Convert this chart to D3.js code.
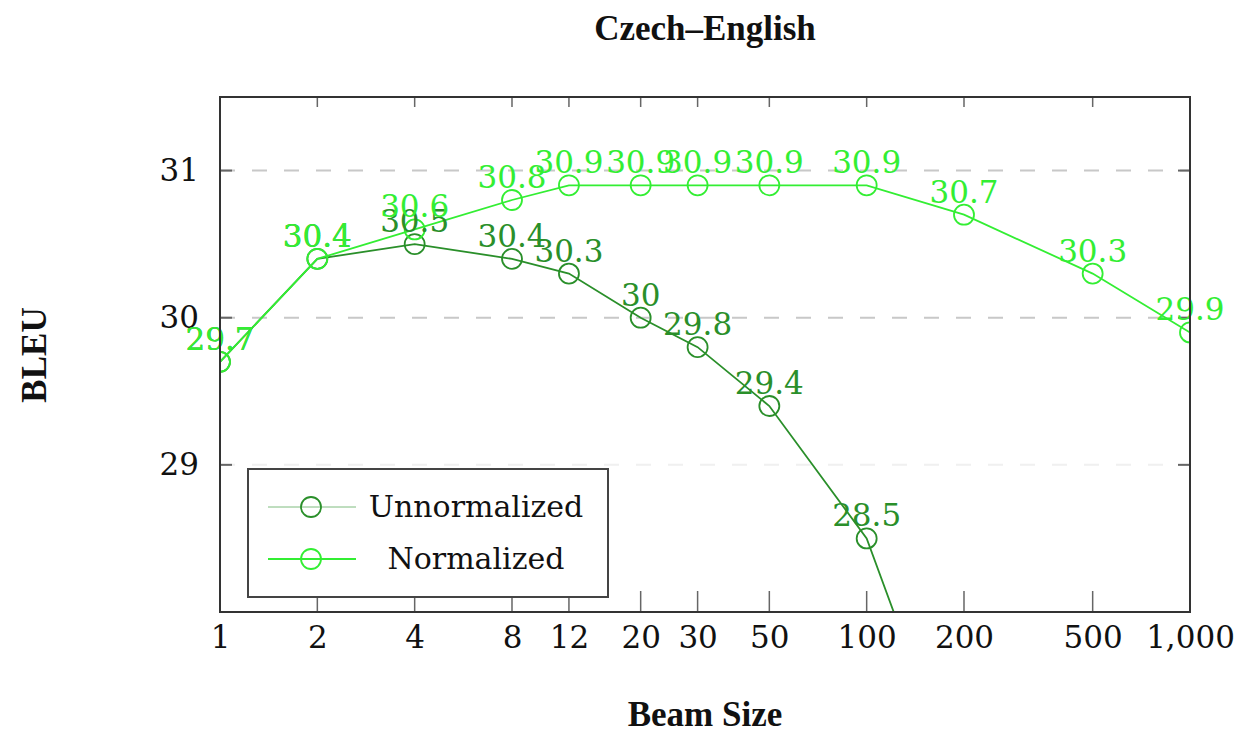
<!DOCTYPE html>
<html><head><meta charset="utf-8">
<script src="https://cdn.jsdelivr.net/npm/d3@7"></script>
<style>body{margin:0;background:#fff}</style>
</head><body>
<script>
const beamSizes = [1, 2, 4, 8, 12, 20, 30, 50, 100, 200, 500, 1000];
const unnormalized = [29.7, 30.4, 30.5, 30.4, 30.3, 30.0, 29.8, 29.4, 28.5, 26.7];
const normalized = [29.7, 30.4, 30.6, 30.8, 30.9, 30.9, 30.9, 30.9, 30.9, 30.7, 30.3, 29.9];
const xTickValues = [1, 2, 4, 8, 12, 20, 30, 50, 100, 200, 500, 1000];
const yTickValues = [29, 30, 31];
const seriesNames = ["Unnormalized", "Normalized"];
const seriesColors = ["#2a8f2a", "#33ee33"];

const W = 1242, H = 734;
const m = {l: 220, r: 52, t: 97, b: 122};
const svg = d3.select("body").append("svg").attr("width", W).attr("height", H);
const x = d3.scaleLog().domain([1, 1000]).range([m.l, W - m.r]);
const y = d3.scaleLinear().domain([28, 31.5]).range([H - m.b, m.t]);
const font = "'DejaVu Serif', 'Liberation Serif', serif";
const boldFont = "'Liberation Serif', 'DejaVu Serif', serif";
const fs = 31;

svg.append("defs").append("clipPath").attr("id", "clip")
  .append("rect").attr("x", m.l).attr("y", m.t).attr("width", W - m.l - m.r).attr("height", H - m.t - m.b);

// grid
svg.append("g").selectAll("line").data(yTickValues).join("line")
  .attr("x1", m.l).attr("x2", W - m.r).attr("y1", d => y(d)).attr("y2", d => y(d))
  .attr("stroke", d => d === 29 ? "#f0f0f0" : "#c8c8c8").attr("stroke-width", 2).attr("stroke-dasharray", "15,17");

// ticks (inside, bottom & top)
const plotBottom = H - m.b, plotTop = m.t;
svg.append("g").selectAll("line").data(xTickValues.slice(1, -1)).join("line")
  .attr("x1", d => x(d)).attr("x2", d => x(d)).attr("y1", plotBottom).attr("y2", plotBottom - 21)
  .attr("stroke", "#666").attr("stroke-width", 1.5);
svg.append("g").selectAll("line").data(xTickValues.slice(1, -1)).join("line")
  .attr("x1", d => x(d)).attr("x2", d => x(d)).attr("y1", plotTop).attr("y2", plotTop + 10)
  .attr("stroke", "#666").attr("stroke-width", 1.5);
svg.append("g").selectAll("line").data(yTickValues).join("line")
  .attr("x1", m.l).attr("x2", m.l + 12).attr("y1", d => y(d)).attr("y2", d => y(d))
  .attr("stroke", "#666").attr("stroke-width", 2);
svg.append("g").selectAll("line").data(yTickValues).join("line")
  .attr("x1", W - m.r - 12).attr("x2", W - m.r).attr("y1", d => y(d)).attr("y2", d => y(d))
  .attr("stroke", "#666").attr("stroke-width", 2);

// axis labels via d3 axes (no domain/ticks lines)
const xAxis = svg.append("g").attr("transform", `translate(0,${plotBottom})`)
  .call(d3.axisBottom(x).tickValues(xTickValues).tickSize(0).tickPadding(14).tickFormat(d3.format(",")));
xAxis.select(".domain").remove();
xAxis.selectAll("text").attr("font-family", font).attr("font-size", fs).attr("fill", "#111");
const yAxis = svg.append("g").attr("transform", `translate(${m.l},0)`)
  .call(d3.axisLeft(y).tickValues(yTickValues).tickSize(0).tickPadding(21).tickFormat(d3.format("d")));
yAxis.select(".domain").remove();
yAxis.selectAll("text").attr("font-family", font).attr("font-size", fs).attr("fill", "#111");

// series
const series = [unnormalized, normalized];
const g = svg.append("g").attr("clip-path", "url(#clip)");
const line = d3.line().x(d => x(d[0])).y(d => y(d[1]));
series.forEach((vals, i) => {
  const pts = vals.map((v, j) => [beamSizes[j], v]);
  g.append("path").datum(pts).attr("d", line).attr("fill", "none")
    .attr("stroke", seriesColors[i]).attr("stroke-width", 1.8);
  g.selectAll(null).data(pts).join("circle")
    .attr("cx", d => x(d[0])).attr("cy", d => y(d[1])).attr("r", 10)
    .attr("fill", "none").attr("stroke", seriesColors[i]).attr("stroke-width", 1.8);
});
series.forEach((vals, i) => {
  const pts = vals.map((v, j) => [beamSizes[j], v]).filter(d => d[1] >= 28);
  svg.append("g").selectAll("text").data(pts).join("text")
    .attr("x", d => x(d[0])).attr("y", d => y(d[1]) - 12)
    .attr("text-anchor", "middle").attr("font-family", font).attr("font-size", fs)
    .attr("fill", seriesColors[i]).text(d => d3.format("")(d[1]));
});

// frame
svg.append("rect").attr("x", m.l).attr("y", m.t).attr("width", W - m.l - m.r).attr("height", H - m.t - m.b)
  .attr("fill", "none").attr("stroke", "#333").attr("stroke-width", 2);

// legend
const lg = svg.append("g");
lg.append("rect").attr("x", 248).attr("y", 469).attr("width", 360).attr("height", 128)
  .attr("fill", "#fff").attr("stroke", "#444").attr("stroke-width", 2);
seriesNames.forEach((name, i) => {
  const yy = 507 + i * 52;
  lg.append("line").attr("x1", 268).attr("x2", 356).attr("y1", yy).attr("y2", yy)
    .attr("stroke", seriesColors[i]).attr("stroke-width", i === 0 ? 1 : 2)
    .attr("stroke-opacity", i === 0 ? 0.6 : 1);
  lg.append("circle").attr("cx", 311).attr("cy", yy).attr("r", 10).attr("fill", "none")
    .attr("stroke", seriesColors[i]).attr("stroke-width", 1.8);
  lg.append("text").attr("x", 476).attr("y", yy + 10).attr("text-anchor", "middle")
    .attr("font-family", font).attr("font-size", 30).attr("fill", "#111").text(name);
});

// titles
svg.append("text").attr("x", 705).attr("y", 40).attr("text-anchor", "middle")
  .attr("font-family", boldFont).attr("font-weight", "bold").attr("font-size", 35).attr("fill", "#111").text("Czech–English");
svg.append("text").attr("x", 705).attr("y", 726).attr("text-anchor", "middle")
  .attr("font-family", boldFont).attr("font-weight", "bold").attr("font-size", 35).attr("fill", "#111").text("Beam Size");
svg.append("text").attr("transform", "translate(46,355) rotate(-90)").attr("text-anchor", "middle")
  .attr("font-family", boldFont).attr("font-weight", "bold").attr("font-size", 35).attr("fill", "#111").text("BLEU");
</script>
</body></html>
